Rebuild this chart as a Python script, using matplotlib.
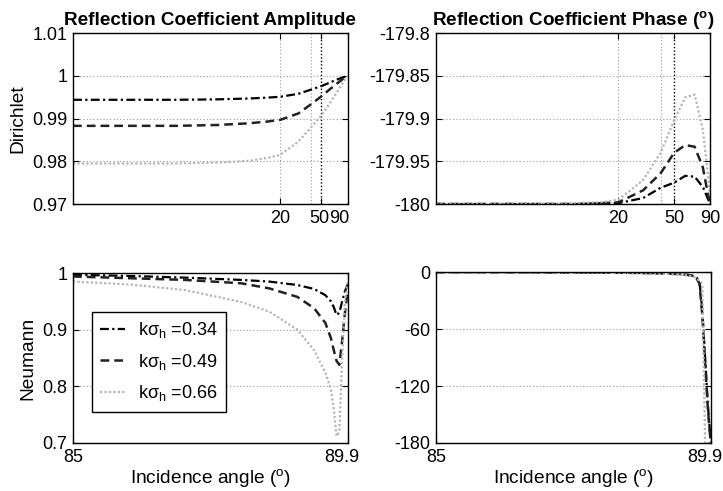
import numpy as np
import matplotlib
matplotlib.use("Agg")
import matplotlib.pyplot as plt
from matplotlib.transforms import ScaledTranslation

plt.rcParams['font.family'] = ['Liberation Sans', 'DejaVu Sans']
plt.rcParams['mathtext.fontset'] = 'custom'
plt.rcParams['mathtext.rm'] = 'Liberation Sans'
plt.rcParams['mathtext.it'] = 'Liberation Sans:italic'
plt.rcParams['mathtext.bf'] = 'Liberation Sans:bold'

# roughness values
ksig = ["0.34", "0.49", "0.66"]

# top row: angle axis (log), degrees
ang_top = [0.2, 1, 2, 5, 10, 15, 20, 30, 40, 50, 60, 70, 80, 90]
dir_amp_034 = [0.9944, 0.9944, 0.9944, 0.9945, 0.9947, 0.9949, 0.9951, 0.9958, 0.9968, 0.9976, 0.9984, 0.9991, 0.9996, 1.0]
dir_amp_049 = [0.9883, 0.9883, 0.9883, 0.9885, 0.9889, 0.9893, 0.9897, 0.9912, 0.9934, 0.9952, 0.9968, 0.9981, 0.9992, 1.0]
dir_amp_066 = [0.9795, 0.9795, 0.9795, 0.9797, 0.9801, 0.9808, 0.9815, 0.9846, 0.9880, 0.9907, 0.9935, 0.9960, 0.9982, 1.0]

ang_ph = [1, 2, 5, 10, 15, 20, 30, 40, 50, 60, 70, 80, 85, 90]
dir_ph_034 = [-180, -180, -180, -180, -179.999, -179.999, -179.993, -179.981, -179.975, -179.967, -179.968, -179.980, -179.990, -180]
dir_ph_049 = [-180, -180, -180, -180, -179.999, -179.998, -179.984, -179.964, -179.940, -179.931, -179.933, -179.957, -179.980, -180]
dir_ph_066 = [-180, -180, -180, -179.999, -179.998, -179.995, -179.972, -179.940, -179.902, -179.875, -179.872, -179.913, -179.950, -179.990]

# bottom row: grazing region, linear axis
ang_bot = [85, 86, 87, 88, 88.5, 89, 89.3, 89.5, 89.6, 89.65, 89.7, 89.75, 89.8, 89.85, 89.9]
neu_amp_034 = [0.997, 0.995, 0.992, 0.988, 0.985, 0.979, 0.972, 0.961, 0.950, 0.940, 0.926, 0.930, 0.950, 0.968, 0.980]
neu_amp_049 = [0.994, 0.991, 0.988, 0.982, 0.973, 0.958, 0.938, 0.912, 0.885, 0.864, 0.845, 0.838, 0.880, 0.930, 0.970]
neu_amp_066 = [0.985, 0.980, 0.970, 0.949, 0.932, 0.900, 0.864, 0.824, 0.794, 0.760, 0.712, 0.720, 0.850, 0.950, 0.985]

neu_ph_034 = [0, 0, -0.2, -0.5, -0.8, -1.2, -2, -3, -4, -6, -10, -40, -90, -140, -180]
neu_ph_049 = [0, 0, -0.2, -0.5, -0.8, -1.3, -2, -3, -4.5, -7, -12, -45, -95, -145, -180]
neu_ph_066 = [0, 0, -0.3, -0.7, -1.0, -1.5, -2.5, -3.5, -5, -7, -9, -12, -180, -180, -180]

styles = [dict(color='black', ls=(0, (4, 1.5, 1, 1.5)), lw=1.6),
          dict(color='#222222', ls=(0, (3.5, 2)), lw=1.8),
          dict(color='#b5b5b5', ls=(0, (1, 1)), lw=1.6)]

fig = plt.figure(figsize=(7.23, 4.91), dpi=100)
ax1 = fig.add_axes([0.101, 0.5845, 0.380, 0.348])
ax2 = fig.add_axes([0.603, 0.5845, 0.379, 0.348])
ax3 = fig.add_axes([0.101, 0.0978, 0.380, 0.346])
ax4 = fig.add_axes([0.603, 0.0978, 0.380, 0.348])

for ys, st in zip([dir_amp_034, dir_amp_049, dir_amp_066], styles):
    ax1.semilogx(ang_top, ys, **st)
for ys, st in zip([dir_ph_034, dir_ph_049, dir_ph_066], styles):
    ax2.semilogx(ang_ph, ys, **st)
lines = []
for ys, st, k in zip([neu_amp_034, neu_amp_049, neu_amp_066], styles, ksig):
    l, = ax3.plot(ang_bot, ys, label=r'k$\mathrm{\sigma}_\mathrm{h}$ =' + k, **st)
    lines.append(l)
for ys, st in zip([neu_ph_034, neu_ph_049, neu_ph_066], styles):
    ax4.plot(ang_bot, ys, **st)

ax1.set_xlim(0.2, 90)
ax1.set_ylim(0.97, 1.01)
ax1.set_yticks([0.97, 0.98, 0.99, 1.0, 1.01])
ax1.set_yticklabels(['0.97', '0.98', '0.99', '1', '1.01'])
ax2.set_xlim(1, 90)
ax2.set_ylim(-180, -179.8)
ax2.set_yticks([-180, -179.95, -179.9, -179.85, -179.8])
ax2.set_yticklabels(['-180', '-179.95', '-179.9', '-179.85', '-179.8'])

for ax in (ax1, ax2):
    ax.set_xticks([20, 50, 90])
    ax.set_xticklabels(['20', '50', '90'])
    ax.xaxis.set_minor_locator(matplotlib.ticker.NullLocator())
    for xv in (20, 40):
        ax.axvline(xv, color='#999999', ls=(0, (1, 2)), lw=0.8, zorder=0)
    ax.axvline(50, color='black', ls=(0, (1, 1.5)), lw=1.0, zorder=0)

ax3.set_xlim(85, 89.9)
ax3.set_ylim(0.7, 1.0)
ax3.set_yticks([0.7, 0.8, 0.9, 1.0])
ax3.set_yticklabels(['0.7', '0.8', '0.9', '1'])
ax4.set_xlim(85, 89.9)
ax4.set_ylim(-180, 0)
ax4.set_yticks([-180, -120, -60, 0])
ax4.set_yticklabels(['-180', '-120', '-60', '0'])
for ax in (ax3, ax4):
    ax.set_xticks([85, 89.9])
    ax.set_xticklabels(['85', '89.9'])
    ax.set_xlabel('Incidence angle ($^{\\mathrm{o}}$)', fontsize=13.8, labelpad=1)

for ax in (ax1, ax2, ax3, ax4):
    ax.yaxis.grid(True, color='#999999', ls=(0, (1, 2)), lw=0.8)
    ax.tick_params(direction='in', length=4, top=True, right=True, labelsize=13, pad=4)
    for sp in ax.spines.values():
        sp.set_linewidth(1.0)


def nudge(lab, px):
    lab.set_transform(lab.get_transform() + ScaledTranslation(px / 100, 0, fig.dpi_scale_trans))


# crowded right-end labels sit a little to the left, like the original
nudge(ax1.get_xticklabels()[1], -2)
nudge(ax1.get_xticklabels()[2], -9)
for ax in (ax3, ax4):
    nudge(ax.get_xticklabels()[-1], -6)

ax1.set_title('Reflection Coefficient Amplitude', fontsize=13.6, fontweight='bold', pad=6)
ax2.set_title('Reflection Coefficient Phase ($^{\\mathbf{o}}$)', fontsize=13.6, fontweight='bold', pad=6)
ax1.set_ylabel('Dirichlet', fontsize=13.8, labelpad=4)
ax3.set_ylabel('Neumann', fontsize=13.8, labelpad=4)

leg = ax3.legend(handles=lines, loc='upper left', bbox_to_anchor=(0.068, 0.772),
                 borderaxespad=0, fancybox=False, framealpha=1, edgecolor='black',
                 fontsize=13, handlelength=1.4, handletextpad=0.7, labelspacing=0.65,
                 borderpad=0.45)
leg.get_frame().set_linewidth(1.0)

fig.savefig('out.png', dpi=100)
